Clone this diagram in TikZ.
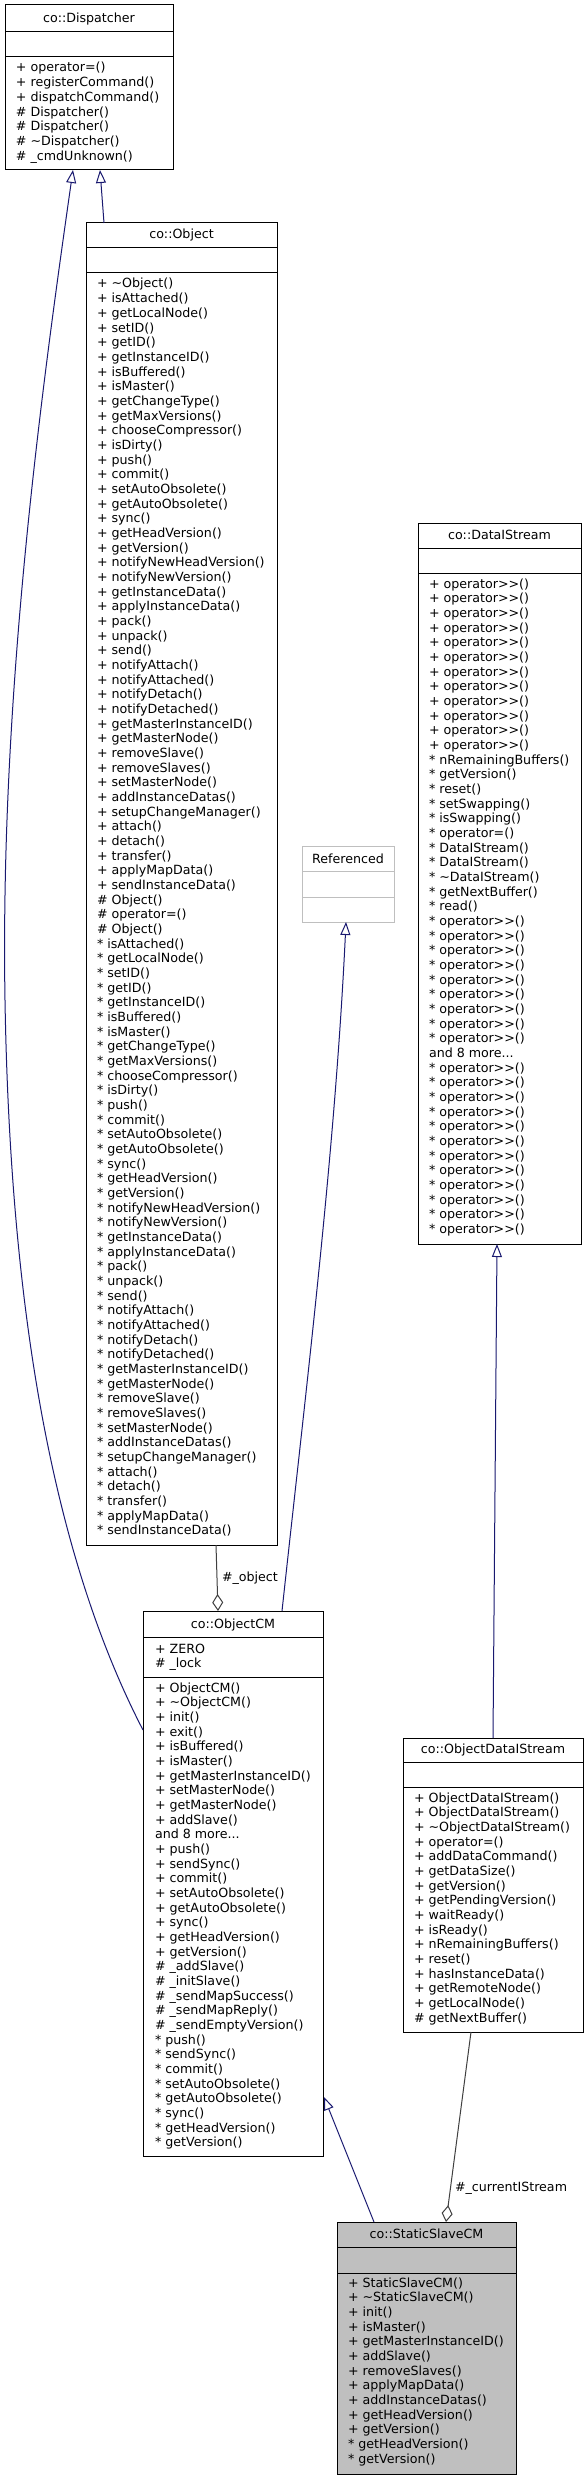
\documentclass[tikz,border=0pt]{standalone}
\usepackage{fontspec}
\setmainfont{DejaVu Sans}
\usetikzlibrary{arrows.meta,calc}
\definecolor{inhblue}{HTML}{191970}
\definecolor{agggray}{HTML}{404040}
\definecolor{boxgray}{HTML}{BFBFBF}
\definecolor{refgray}{HTML}{BFBFBF}
\newcommand{\umlbox}[8]{%
  \node[cbox, #8, minimum width={#4pt-#2pt}, minimum height={#5pt-#3pt}] (#1) at (#2,#3) {};
  \draw[sepline, #8] (#2,#6) -- (#4,#6);
  \draw[sepline, #8] (#2,#7) -- (#4,#7);
}
\newcommand{\tl}{\textasciitilde}
\newcommand{\st}{{*}}
\begin{document}
\begin{tikzpicture}[x=1pt,y=-1pt,
  cbox/.style={draw=black, line width=1pt, fill=white, inner sep=0pt, outer sep=0pt, anchor=north west},
  sepline/.style={draw=black, line width=1pt},
  txt/.style={inner sep=0pt, outer sep=0pt, font=\fontsize{12.65pt}{14.67pt}\selectfont},
  inh/.style={draw=inhblue, line width=1pt, -{Triangle[fill=white, length=13pt, width=10pt]}},
  agg/.style={draw=agggray, line width=1pt, -{Diamond[fill=white, length=17pt, width=11pt]}}
]
\renewcommand{\arraystretch}{1}
\useasboundingbox[fill=white] (0,0) rectangle (588,2480);

% ---------- co::Dispatcher
\umlbox{disp}{5}{5}{173}{170}{32}{57}{}
\node[txt, anchor=base] (dispt) at (89,23) {co::Dispatcher};
\node[txt, anchor=base west] (dispm) at (16,72) {\begin{tabular}[t]{@{}l@{}}
+ operator=()\\
+ registerCommand()\\
+ dispatchCommand()\\
\# Dispatcher()\\
\# Dispatcher()\\
\# \tl Dispatcher()\\
\# \_cmdUnknown()
\end{tabular}};

% ---------- co::Object
\umlbox{obj}{86}{223}{277}{1545}{248}{273}{}
\node[txt, anchor=base] (objt) at (181.5,239) {co::Object};
\node[txt, anchor=base west] (objm) at (97,288) {\begin{tabular}[t]{@{}l@{}}
+ \tl Object()\\
+ isAttached()\\
+ getLocalNode()\\
+ setID()\\
+ getID()\\
+ getInstanceID()\\
+ isBuffered()\\
+ isMaster()\\
+ getChangeType()\\
+ getMaxVersions()\\
+ chooseCompressor()\\
+ isDirty()\\
+ push()\\
+ commit()\\
+ setAutoObsolete()\\
+ getAutoObsolete()\\
+ sync()\\
+ getHeadVersion()\\
+ getVersion()\\
+ notifyNewHeadVersion()\\
+ notifyNewVersion()\\
+ getInstanceData()\\
+ applyInstanceData()\\
+ pack()\\
+ unpack()\\
+ send()\\
+ notifyAttach()\\
+ notifyAttached()\\
+ notifyDetach()\\
+ notifyDetached()\\
+ getMasterInstanceID()\\
+ getMasterNode()\\
+ removeSlave()\\
+ removeSlaves()\\
+ setMasterNode()\\
+ addInstanceDatas()\\
+ setupChangeManager()\\
+ attach()\\
+ detach()\\
+ transfer()\\
+ applyMapData()\\
+ sendInstanceData()\\
\# Object()\\
\# operator=()\\
\# Object()\\
\st{} isAttached()\\
\st{} getLocalNode()\\
\st{} setID()\\
\st{} getID()\\
\st{} getInstanceID()\\
\st{} isBuffered()\\
\st{} isMaster()\\
\st{} getChangeType()\\
\st{} getMaxVersions()\\
\st{} chooseCompressor()\\
\st{} isDirty()\\
\st{} push()\\
\st{} commit()\\
\st{} setAutoObsolete()\\
\st{} getAutoObsolete()\\
\st{} sync()\\
\st{} getHeadVersion()\\
\st{} getVersion()\\
\st{} notifyNewHeadVersion()\\
\st{} notifyNewVersion()\\
\st{} getInstanceData()\\
\st{} applyInstanceData()\\
\st{} pack()\\
\st{} unpack()\\
\st{} send()\\
\st{} notifyAttach()\\
\st{} notifyAttached()\\
\st{} notifyDetach()\\
\st{} notifyDetached()\\
\st{} getMasterInstanceID()\\
\st{} getMasterNode()\\
\st{} removeSlave()\\
\st{} removeSlaves()\\
\st{} setMasterNode()\\
\st{} addInstanceDatas()\\
\st{} setupChangeManager()\\
\st{} attach()\\
\st{} detach()\\
\st{} transfer()\\
\st{} applyMapData()\\
\st{} sendInstanceData()
\end{tabular}};

% ---------- Referenced
\umlbox{ref}{302}{846}{394}{922}{871}{897}{draw=refgray}
\node[txt, anchor=base] (reft) at (348,863) {Referenced};

% ---------- co::DataIStream
\umlbox{dis}{418}{523}{581}{1244}{548}{573}{}
\node[txt, anchor=base] (dist) at (499.5,539) {co::DataIStream};
\node[txt, anchor=base west] (dism) at (429,588) {\begin{tabular}[t]{@{}l@{}}
+ operator>{}>()\\
+ operator>{}>()\\
+ operator>{}>()\\
+ operator>{}>()\\
+ operator>{}>()\\
+ operator>{}>()\\
+ operator>{}>()\\
+ operator>{}>()\\
+ operator>{}>()\\
+ operator>{}>()\\
+ operator>{}>()\\
+ operator>{}>()\\
\st{} nRemainingBuffers()\\
\st{} getVersion()\\
\st{} reset()\\
\st{} setSwapping()\\
\st{} isSwapping()\\
\st{} operator=()\\
\st{} DataIStream()\\
\st{} DataIStream()\\
\st{} \tl DataIStream()\\
\st{} getNextBuffer()\\
\st{} read()\\
\st{} operator>{}>()\\
\st{} operator>{}>()\\
\st{} operator>{}>()\\
\st{} operator>{}>()\\
\st{} operator>{}>()\\
\st{} operator>{}>()\\
\st{} operator>{}>()\\
\st{} operator>{}>()\\
\st{} operator>{}>()\\
and 8 more...\\
\st{} operator>{}>()\\
\st{} operator>{}>()\\
\st{} operator>{}>()\\
\st{} operator>{}>()\\
\st{} operator>{}>()\\
\st{} operator>{}>()\\
\st{} operator>{}>()\\
\st{} operator>{}>()\\
\st{} operator>{}>()\\
\st{} operator>{}>()\\
\st{} operator>{}>()\\
\st{} operator>{}>()
\end{tabular}};

% ---------- co::ObjectCM
\umlbox{ocm}{143}{1611}{323}{2156}{1637}{1677}{}
\node[txt, anchor=base] (ocmt) at (233,1628) {co::ObjectCM};
\node[txt, anchor=base west] (ocma) at (155,1653) {\begin{tabular}[t]{@{}l@{}}
+ ZERO\\
\# \_lock
\end{tabular}};
\node[txt, anchor=base west] (ocmm) at (155,1692) {\begin{tabular}[t]{@{}l@{}}
+ ObjectCM()\\
+ \tl ObjectCM()\\
+ init()\\
+ exit()\\
+ isBuffered()\\
+ isMaster()\\
+ getMasterInstanceID()\\
+ setMasterNode()\\
+ getMasterNode()\\
+ addSlave()\\
and 8 more...\\
+ push()\\
+ sendSync()\\
+ commit()\\
+ setAutoObsolete()\\
+ getAutoObsolete()\\
+ sync()\\
+ getHeadVersion()\\
+ getVersion()\\
\# \_addSlave()\\
\# \_initSlave()\\
\# \_sendMapSuccess()\\
\# \_sendMapReply()\\
\# \_sendEmptyVersion()\\
\st{} push()\\
\st{} sendSync()\\
\st{} commit()\\
\st{} setAutoObsolete()\\
\st{} getAutoObsolete()\\
\st{} sync()\\
\st{} getHeadVersion()\\
\st{} getVersion()
\end{tabular}};

% ---------- co::ObjectDataIStream
\umlbox{odis}{403}{1738}{583}{2032}{1762}{1787}{}
\node[txt, anchor=base] (odist) at (493,1753) {co::ObjectDataIStream};
\node[txt, anchor=base west] (odism) at (414,1802) {\begin{tabular}[t]{@{}l@{}}
+ ObjectDataIStream()\\
+ ObjectDataIStream()\\
+ \tl ObjectDataIStream()\\
+ operator=()\\
+ addDataCommand()\\
+ getDataSize()\\
+ getVersion()\\
+ getPendingVersion()\\
+ waitReady()\\
+ isReady()\\
+ nRemainingBuffers()\\
+ reset()\\
+ hasInstanceData()\\
+ getRemoteNode()\\
+ getLocalNode()\\
\# getNextBuffer()
\end{tabular}};

% ---------- co::StaticSlaveCM
\umlbox{ssc}{337}{2222}{516}{2474}{2247}{2273}{fill=boxgray}
\node[txt, anchor=base] (ssct) at (426.5,2238) {co::StaticSlaveCM};
\node[txt, anchor=base west] (sscm) at (348,2287) {\begin{tabular}[t]{@{}l@{}}
+ StaticSlaveCM()\\
+ \tl StaticSlaveCM()\\
+ init()\\
+ isMaster()\\
+ getMasterInstanceID()\\
+ addSlave()\\
+ removeSlaves()\\
+ applyMapData()\\
+ addInstanceDatas()\\
+ getHeadVersion()\\
+ getVersion()\\
\st{} getHeadVersion()\\
\st{} getVersion()
\end{tabular}};

% ---------- connectors
\draw[inh] ($(obj.north west)+(18,0)$) -- ($(disp.south west)+(95,0)$);
\draw[inh] ($(ocm.north west)+(0,119)$) .. controls (50,1550) and (10,1300) .. (5,1000)
   .. controls (0,700) and (40,400) .. ($(disp.south west)+(68,0)$);
\draw[inh] ($(ocm.north west)+(139,0)$) .. controls (307,1380) and (335,1152) .. ($(ref.south west)+(44,0)$);
\draw[inh] (odis.north) -- ($(dis.south west)+(79,0)$);
\draw[inh] ($(ssc.north west)+(37,0)$) -- ($(ocm.north east)+(1,486)$);
\draw[agg] ($(obj.south west)+(130,0)$) -- ($(ocm.north west)+(75,0)$);
\node[txt, anchor=west] (lobj) at (222,1578) {\#\_object};
\draw[agg] ($(odis.south west)+(68,0)$) -- ($(ssc.north west)+(109,0)$);
\node[txt, anchor=west] (lcis) at (455,2188) {\#\_currentIStream};
\end{tikzpicture}
\end{document}
